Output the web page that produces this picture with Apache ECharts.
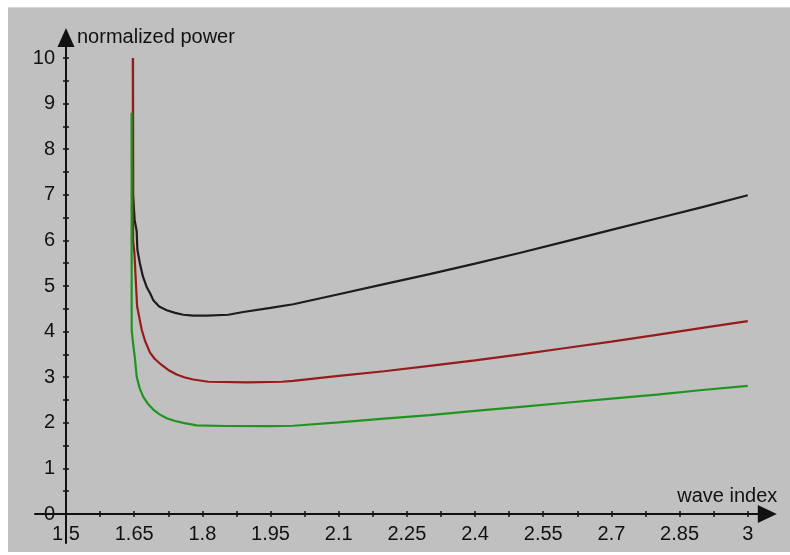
<!DOCTYPE html>
<html>
<head>
<meta charset="utf-8">
<script src="https://cdn.jsdelivr.net/npm/echarts@6/dist/echarts.min.js"></script>
<style>
  html, body { margin: 0; padding: 0; background: #ffffff; }
  #wrap { position: relative; width: 790px; height: 555px; overflow: hidden; background: #ffffff; }
  #bg { position: absolute; left: 8px; top: 7px; width: 782px; height: 545px; background: #c0c0c0; border-top: 1px solid #d6d6d6; box-sizing: border-box; }
  #main { position: absolute; left: 0; top: 0; width: 790px; height: 555px; }
</style>
</head>
<body>
<div id="wrap"><div id="bg"></div><div id="main"></div></div>
<script>
// ---- data ----
const xTickValues = [1.5, 1.575, 1.65, 1.725, 1.8, 1.875, 1.95, 2.025, 2.1, 2.175, 2.25, 2.325, 2.4, 2.475, 2.55, 2.625, 2.7, 2.775, 2.85, 2.925, 3];
const xLabelValues = [1.5, 1.65, 1.8, 1.95, 2.1, 2.25, 2.4, 2.55, 2.7, 2.85, 3];
const yTickValues = [0, 0.5, 1, 1.5, 2, 2.5, 3, 3.5, 4, 4.5, 5, 5.5, 6, 6.5, 7, 7.5, 8, 8.5, 9, 9.5, 10];
const yLabelValues = [0, 1, 2, 3, 4, 5, 6, 7, 8, 9, 10];

const blackX = [1.6474, 1.6476, 1.651, 1.6555, 1.657, 1.6625, 1.6695, 1.6775, 1.685, 1.692, 1.705, 1.7215, 1.74, 1.758, 1.78, 1.81, 1.857, 1.89, 1.95, 2.0, 2.1, 2.2, 2.3, 2.4, 2.5, 2.6, 2.7, 2.8, 2.9, 3.0];
const blackY = [10, 7.0, 6.45, 6.2, 5.8, 5.5, 5.2, 4.98, 4.84, 4.69, 4.55, 4.47, 4.41, 4.37, 4.35, 4.35, 4.37, 4.43, 4.52, 4.6, 4.82, 5.04, 5.26, 5.49, 5.73, 5.98, 6.23, 6.48, 6.73, 6.99];

const redX = [1.6472, 1.6476, 1.6505, 1.6565, 1.6666, 1.6738, 1.6848, 1.6955, 1.7068, 1.725, 1.7435, 1.76, 1.78, 1.813, 1.9, 1.975, 2.0, 2.1, 2.2, 2.3, 2.4, 2.5, 2.6, 2.7, 2.8, 2.9, 3.0];
const redY = [10, 6.0, 5.72, 4.55, 4.04, 3.80, 3.54, 3.40, 3.30, 3.16, 3.06, 3.00, 2.95, 2.90, 2.885, 2.90, 2.92, 3.03, 3.13, 3.25, 3.37, 3.50, 3.64, 3.78, 3.93, 4.08, 4.23];

const greenX = [1.6443, 1.6445, 1.6475, 1.6518, 1.6555, 1.662, 1.67, 1.68, 1.692, 1.705, 1.7215, 1.74, 1.758, 1.7875, 1.85, 1.95, 2.0, 2.1, 2.2, 2.3, 2.4, 2.5, 2.6, 2.7, 2.8, 2.9, 3.0];
const greenY = [8.8, 4.03, 3.75, 3.40, 3.01, 2.76, 2.57, 2.42, 2.29, 2.19, 2.10, 2.04, 2.00, 1.945, 1.93, 1.925, 1.935, 2.01, 2.09, 2.17, 2.26, 2.35, 2.44, 2.53, 2.62, 2.72, 2.81];

const xName = 'wave index';
const yName = 'normalized power';

// ---- chart ----
const FONT = "'Liberation Sans', Arial, sans-serif";
const INK = '#111111';
function pairs(xs, ys) { return xs.map((x, i) => [x, ys[i]]); }

const chart = echarts.init(document.getElementById('main'), null, { renderer: 'canvas' });
chart.setOption({
  backgroundColor: 'transparent',
  animation: false,
  grid: [
    { left: 66, right: 22.7, top: 37.5, bottom: 41 },
    { left: 35, right: 22.7, top: 37.5, bottom: 41 },
    { left: 66, right: 22.7, top: 37.5, bottom: 12 }
  ],
  xAxis: [
    {
      gridIndex: 0, type: 'value', min: 1.5, max: 3.043,
      axisLine: { show: false, onZero: false },
      axisTick: { show: true, inside: false, length: 3, customValues: xTickValues, lineStyle: { color: INK, width: 1.5 } },
      axisLabel: { show: true, customValues: xLabelValues, margin: 10, fontSize: 20, fontFamily: FONT, color: INK },
      splitLine: { show: false }
    },
    {
      gridIndex: 1, type: 'value', min: 1.4318, max: 3.043,
      axisLine: { show: true, onZero: false, symbol: ['none', 'triangle'], symbolSize: [18, 19], lineStyle: { color: INK, width: 2 } },
      axisTick: { show: true, inside: true, length: 3, customValues: xTickValues, lineStyle: { color: INK, width: 1.5 } },
      axisLabel: { show: false },
      splitLine: { show: false },
      name: xName, nameLocation: 'end', nameGap: 10,
      nameTextStyle: { align: 'right', verticalAlign: 'bottom', padding: [0, 0, 8, 0], fontSize: 20, fontFamily: FONT, color: INK }
    },
    { gridIndex: 2, type: 'value', min: 1.5, max: 3.043, show: false }
  ],
  yAxis: [
    {
      gridIndex: 0, type: 'value', min: 0, max: 10.45,
      axisLine: { show: false, onZero: false },
      axisTick: { show: true, inside: false, length: 3, customValues: yTickValues, lineStyle: { color: INK, width: 1.5 } },
      axisLabel: { show: true, customValues: yLabelValues, margin: 11, fontSize: 20, fontFamily: FONT, color: INK },
      splitLine: { show: false }
    },
    { gridIndex: 1, type: 'value', min: 0, max: 10.45, show: false },
    {
      gridIndex: 2, type: 'value', min: -0.636, max: 10.45,
      axisLine: { show: true, onZero: false, symbol: ['none', 'triangle'], symbolSize: [17, 19], lineStyle: { color: INK, width: 2 } },
      axisTick: { show: true, inside: true, length: 3, customValues: yTickValues, lineStyle: { color: INK, width: 1.5 } },
      axisLabel: { show: false },
      splitLine: { show: false },
      name: yName, nameLocation: 'end', nameGap: 0,
      nameTextStyle: { align: 'left', verticalAlign: 'middle', padding: [0, 0, 0, 11], fontSize: 20, fontFamily: FONT, color: INK }
    }
  ],
  series: [
    { type: 'line', xAxisIndex: 0, yAxisIndex: 0, data: pairs(blackX, blackY), showSymbol: false, lineStyle: { color: '#1c1c1c', width: 2.2 }, itemStyle: { color: '#1c1c1c' } },
    { type: 'line', xAxisIndex: 0, yAxisIndex: 0, data: pairs(redX, redY), showSymbol: false, lineStyle: { color: '#961c1c', width: 2.2 }, itemStyle: { color: '#961c1c' } },
    { type: 'line', xAxisIndex: 0, yAxisIndex: 0, data: pairs(greenX, greenY), showSymbol: false, lineStyle: { color: '#1f951f', width: 2.2 }, itemStyle: { color: '#1f951f' } }
  ]
});
</script>
</body>
</html>
